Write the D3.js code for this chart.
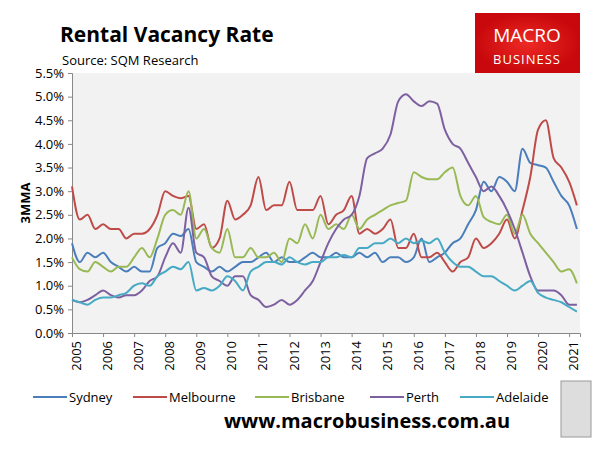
<!DOCTYPE html>
<html><head><meta charset="utf-8">
<script src="https://cdn.jsdelivr.net/npm/d3@7"></script>
<style>body{margin:0;background:#fff}text{font-family:"Open Sans",sans-serif}</style>
</head><body><svg id="c" width="598" height="449"></svg>
<script>
const seriesNames = ["Sydney","Melbourne","Brisbane","Perth","Adelaide"];
const colors = ["#4a7ebb","#be4b48","#98b954","#7d60a0","#46aac5"];
const yTicks = [0,0.5,1,1.5,2,2.5,3,3.5,4,4.5,5,5.5];
const yearLabels = ["2005","2006","2007","2008","2009","2010","2011","2012","2013","2014","2015","2016","2017","2018","2019","2020","2021"];
// quarterly observations, 2005 Q1 .. 2021 Q2
const sydney = [1.9,1.5,1.7,1.6, 1.7,1.5,1.4,1.3, 1.4,1.3,1.3,1.8, 1.9,2.1,2.05,2.2, 1.5,1.4,1.3,1.4, 1.3,1.4,1.5,1.5, 1.6,1.7,1.5,1.6, 1.5,1.5,1.6,1.7, 1.6,1.6,1.7,1.6, 1.6,1.7,1.6,1.7, 1.5,1.6,1.6,1.5, 1.6,2.0,1.5,1.6, 1.7,1.9,2.0,2.3, 2.6,3.2,3.0,3.3, 3.2,3.0,3.9,3.6, 3.55,3.5,3.2,2.9, 2.7,2.2];
const melbourne = [3.1,2.4,2.5,2.2, 2.3,2.2,2.2,2.0, 2.1,2.1,2.2,2.5, 3.0,2.9,2.85,2.9, 2.2,2.3,1.8,2.0, 2.8,2.4,2.5,2.7, 3.3,2.6,2.7,2.7, 3.2,2.6,2.6,2.6, 2.9,2.3,2.5,2.6, 2.9,2.1,2.2,2.1, 2.2,2.4,1.8,1.8, 2.1,1.6,1.6,1.7, 1.5,1.3,1.5,1.6, 2.0,1.8,1.9,2.1, 2.4,2.0,2.6,3.3, 4.3,4.5,3.7,3.5, 3.2,2.7];
const brisbane = [1.6,1.35,1.3,1.5, 1.4,1.3,1.4,1.4, 1.6,1.8,1.6,2.0, 2.5,2.6,2.5,3.0, 2.0,2.2,1.8,1.7, 2.2,1.6,1.6,1.8, 1.6,1.6,1.7,1.5, 2.0,1.9,2.3,2.0, 2.5,2.2,2.3,2.2, 2.5,2.2,2.4,2.5, 2.6,2.7,2.75,2.8, 3.4,3.3,3.25,3.25, 3.4,3.5,2.9,2.7, 2.9,2.45,2.35,2.3, 2.5,2.1,2.5,2.1, 1.9,1.7,1.5,1.3, 1.35,1.05];
const perth = [0.7,0.65,0.7,0.8, 0.9,0.8,0.75,0.8, 0.8,0.9,1.1,1.2, 1.6,1.9,1.7,2.65, 1.7,1.6,1.2,1.1, 1.0,1.2,1.2,0.8, 0.7,0.55,0.6,0.7, 0.6,0.7,0.9,1.1, 1.5,1.9,2.2,2.4, 2.5,2.9,3.7,3.8, 3.9,4.2,4.9,5.05, 4.9,4.8,4.9,4.85, 4.3,4.0,3.9,3.6, 3.3,3.0,3.1,2.9, 2.6,2.2,1.7,1.2, 0.9,0.9,0.9,0.8, 0.6,0.6];
const adelaide = [0.7,0.65,0.6,0.7, 0.75,0.75,0.8,0.85, 1.0,1.05,1.0,1.2, 1.3,1.4,1.35,1.5, 0.9,0.95,0.9,1.0, 1.2,1.1,0.9,1.3, 1.4,1.5,1.5,1.45, 1.6,1.5,1.45,1.5, 1.5,1.6,1.6,1.65, 1.6,1.8,1.8,1.9, 1.9,2.0,1.9,2.0, 1.9,1.95,1.9,2.0, 1.7,1.5,1.4,1.4, 1.3,1.2,1.2,1.1, 1.0,0.9,1.0,1.1, 0.85,0.75,0.7,0.65, 0.55,0.45];
const allSeries = [sydney,melbourne,brisbane,perth,adelaide];

const svg = d3.select("#c");
const L=72, R=580, T=73, B=333;
const x = d3.scaleLinear().domain([2005,2021.35]).range([L,R]);
const y = d3.scaleLinear().domain([0,5.5]).range([B,T]);
svg.append("rect").attr("x",L).attr("y",T).attr("width",R-L).attr("height",B-T).attr("fill","#f2f2f2");

const ya = svg.append("g").attr("transform",`translate(${L},0)`)
 .call(d3.axisLeft(y).tickValues(yTicks).tickFormat(d=>d.toFixed(1)+"%").tickSize(4));
ya.selectAll("text").attr("font-size",13).attr("fill","#000").attr("x",-8);
ya.selectAll("line,path").attr("stroke","#888");
const xa = svg.append("g").attr("transform",`translate(0,${B})`)
 .call(d3.axisBottom(x).tickValues(yearLabels.map(Number)).tickFormat(d=>String(d)).tickSize(4));
xa.selectAll("line,path").attr("stroke","#888");
xa.selectAll("text").attr("font-size",13).attr("fill","#000")
 .attr("transform","rotate(-90)").attr("text-anchor","end").attr("x",-8).attr("y",4).attr("dy","0.35em");

const line = d3.line().x((d,i)=>x(2005+i*0.25)).y(d=>y(d)).curve(d3.curveMonotoneX);
allSeries.forEach((s,k)=>svg.append("path").datum(s).attr("d",line).attr("fill","none").attr("stroke",colors[k]).attr("stroke-width",2));

svg.append("text").attr("x",60).attr("y",42).attr("font-size",21).attr("font-weight","bold").text("Rental Vacancy Rate");
svg.append("text").attr("x",62).attr("y",65).attr("font-size",13).text("Source: SQM Research");
svg.append("text").attr("transform","translate(30,203) rotate(-90)").attr("text-anchor","middle").attr("font-size",13).attr("font-weight","bold").text("3MMA");

// logo
const g = svg.append("g");
const grad = svg.append("defs").append("radialGradient").attr("id","rg");
grad.append("stop").attr("offset","0%").attr("stop-color","#ee2a24");
grad.append("stop").attr("offset","100%").attr("stop-color","#c8080c");
g.append("rect").attr("x",475).attr("y",13).attr("width",105).attr("height",60).attr("fill","url(#rg)");
g.append("text").attr("x",527).attr("y",42).attr("text-anchor","middle").attr("fill","#fff").attr("font-size",19).text("MACRO");
g.append("text").attr("x",527).attr("y",64).attr("text-anchor","middle").attr("fill","#fff").attr("font-size",13).attr("letter-spacing",1).text("BUSINESS");

// legend
const lx=[33,133,255,370,460];
seriesNames.forEach((n,k)=>{
 svg.append("line").attr("x1",lx[k]).attr("x2",lx[k]+34).attr("y1",397).attr("y2",397).attr("stroke",colors[k]).attr("stroke-width",2);
 svg.append("text").attr("x",lx[k]+36).attr("y",402).attr("font-size",13).text(n);
});
svg.append("text").attr("x",367).attr("y",428).attr("text-anchor","middle").attr("font-size",20).attr("font-weight","bold").attr("font-family","Liberation Sans").text("www.macrobusiness.com.au");
svg.append("rect").attr("x",561).attr("y",381).attr("width",30).attr("height",56).attr("fill","#ddd").attr("stroke","#999");
</script></body></html>
